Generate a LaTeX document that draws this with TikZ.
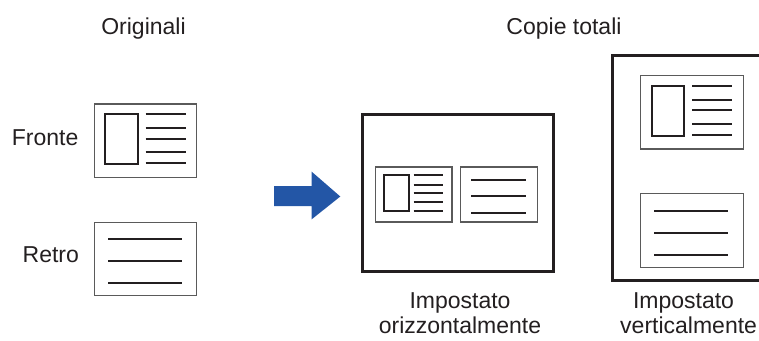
\documentclass[tikz,border=0pt]{standalone}
\usepackage{fontspec}
\setmainfont{Liberation Sans}
\definecolor{ink}{RGB}{35,31,32}
\definecolor{cardgray}{RGB}{90,90,90}
\definecolor{arrowblue}{RGB}{35,86,166}
\tikzset{
  lbl/.style={inner sep=0pt, anchor=base, font=\fontsize{23}{27}\selectfont, text=ink},
  page/.style={draw=ink, line width=2.5pt},
  card/.style={draw=cardgray, line width=1.3pt},
  photo/.style={draw=ink, line width=2.3pt},
  txtline/.style={draw=ink, line width=2.3pt},
}
\begin{document}
\begin{tikzpicture}[x=1pt,y=-1pt]
\useasboundingbox (0,0) rectangle (759,340);
% titles
\node[lbl] (orig) at (143.5,34.3) {Originali};
\node[lbl] (copie) at (564,34.3) {Copie totali};
\node[lbl, anchor=base west] (fronte) at (11.7,145) {Fronte};
\node[lbl, anchor=base west] (retro) at (22.5,262.7) {Retro};
% Fronte card
\draw[card] (94.3,104) rectangle (196.7,177.7);
\draw[photo] (105.3,114) rectangle (138.3,163.7);
\foreach \y in {114.3,127.7,138.7,152,162.7} \draw[txtline] (145.7,\y) -- (185.7,\y);
% Retro card
\draw[card] (94.3,222.3) rectangle (196.7,295.7);
\foreach \y in {239,261,283.3} \draw[txtline] (108.3,\y) -- (182,\y);
% arrow
\fill[arrowblue] (274,186) -- (311.7,186) -- (311.7,171.7) -- (340.3,196.5) -- (311.7,219.3) -- (311.7,206) -- (274,206) -- cycle;
% horizontal page
\draw[page] (362.3,114.7) rectangle (553.7,271.7);
\draw[card] (375.3,167) rectangle (452,222);
\draw[photo] (384.3,175) rectangle (408.7,211);
\foreach \y in {175,185,193,202.3,210.7} \draw[txtline] (413.7,\y) -- (443,\y);
\draw[card] (460.3,167) rectangle (537.7,222);
\foreach \y in {180,196,212.7} \draw[txtline] (471.3,\y) -- (526,\y);
\node[lbl] (imp1) at (460,308.3) {Impostato};
\node[lbl] (oriz) at (460,333) {orizzontalmente};
% vertical page
\begin{scope}
\clip (0,0) rectangle (759,340);
\draw[page] (612.7,55.7) rectangle (790,280.7);
\end{scope}
\draw[card] (640.7,75.7) rectangle (743.3,149);
\draw[photo] (652,86) rectangle (684.3,135.7);
\foreach \y in {86,100,110.3,123.7,134.7} \draw[txtline] (692,\y) -- (731.7,\y);
\draw[card] (640.7,193.7) rectangle (743.3,267.3);
\foreach \y in {210.7,232.7,255} \draw[txtline] (654.3,\y) -- (728.3,\y);
\node[lbl] (imp2) at (683.5,308.3) {Impostato};
\node[lbl] (vert) at (688.6,333) {verticalmente};
\end{tikzpicture}
\end{document}
